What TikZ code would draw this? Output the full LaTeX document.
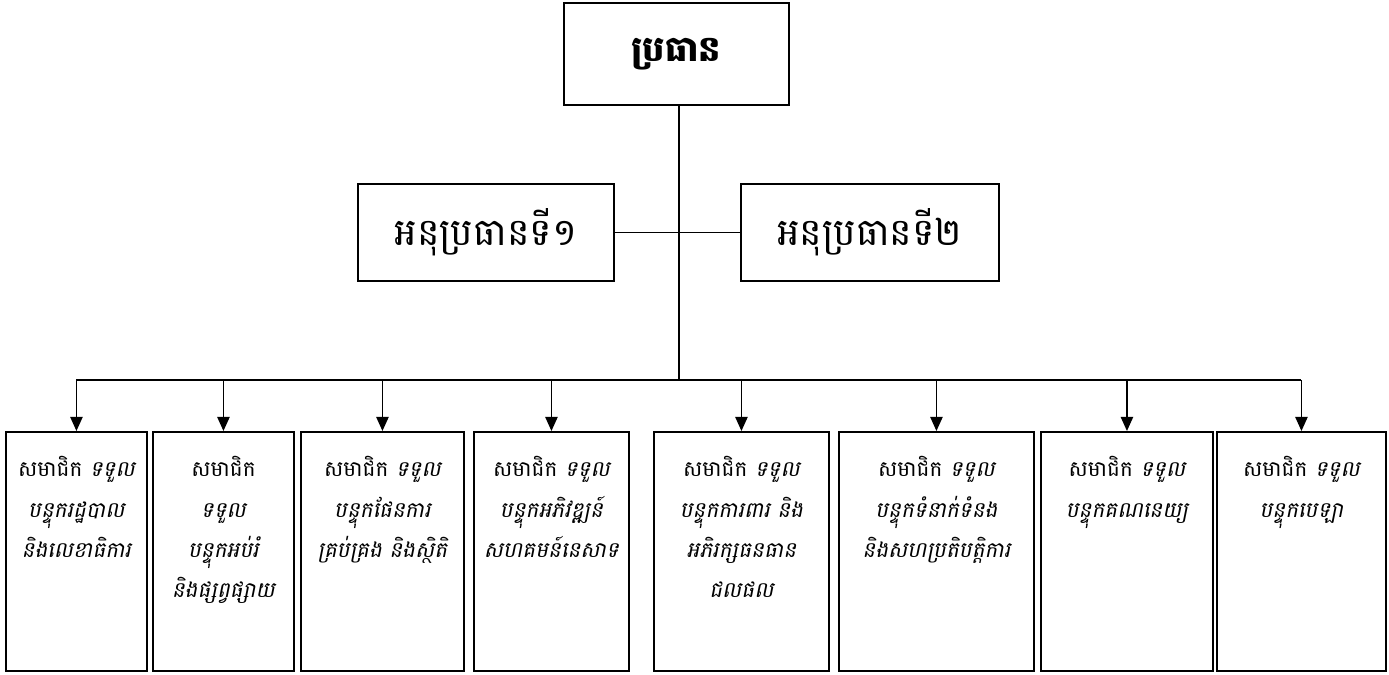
\documentclass[tikz,border=0pt]{standalone}
\usepackage{fontspec}
\newfontfamily\khmer[Script=Khmer]{Battambang}
\newfontfamily\khmerit[Script=Khmer,FakeSlant=0.2]{Battambang}
\newcommand{\kslant}[1]{{\khmerit #1}}
\usetikzlibrary{arrows.meta, positioning}

\begin{document}
\begin{tikzpicture}[x=0.02cm, y=-0.02cm,
        box/.style={draw, line width=1.1pt, minimum width=#1*1cm, anchor=north west, inner sep=0pt},
        head/.style={box=#1, minimum height=1.95cm, font=\khmer\fontsize{21.5}{26}\selectfont},
        member/.style={box=#1, minimum height=4.78cm},
        duty/.style={align=center, inner sep=0pt, font=\khmer\fontsize{12.3}{23}\selectfont},
        link/.style={line width=0.8pt},
        down/.style={link, -{Triangle[width=7pt, length=8pt]}}]
        \useasboundingbox (0,0) rectangle (1389,675);
        % top of the chart
        \node[head=4.5, minimum height=2.04cm, font=\khmer\bfseries\fontsize{20}{24}\selectfont] (chief) at (563,2) {ប្រធាន};
        \node[head=5.12] (vp1) at (357,183) {អនុប្រធានទី១};
        \node[head=5.16] (vp2) at (740,183) {អនុប្រធានទី២};
        \coordinate (bus) at (679,380);
        % members
        \node[member=2.82] (m1) at (5,431) {};
        \node[member=2.82] (m2) at (152,431) {};
        \node[member=3.26] (m3) at (300,431) {};
        \node[member=3.10] (m4) at (473,431) {};
        \node[member=3.50] (m5) at (653,431) {};
        \node[member=3.90] (m6) at (838,431) {};
        \node[member=3.44] (m7) at (1040,431) {};
        \node[member=3.38] (m8) at (1216,431) {};
        \node[duty, below=5mm of m1.north] (t1) {សមាជិក \kslant{ទទួល}\\\kslant{បន្ទុករដ្ឋបាល}\\\kslant{និងលេខាធិការ}};
        \node[duty, below=5mm of m2.north] (t2) {សមាជិក\\\kslant{ទទួល}\\\kslant{បន្ទុកអប់រំ}\\\kslant{និងផ្សព្វផ្សាយ}};
        \node[duty, below=5mm of m3.north] (t3) {សមាជិក \kslant{ទទួល}\\\kslant{បន្ទុកផែនការ}\\\kslant{គ្រប់គ្រង និងស្ថិតិ}};
        \node[duty, below=5mm of m4.north] (t4) {សមាជិក \kslant{ទទួល}\\\kslant{បន្ទុកអភិវឌ្ឍន៍}\\\kslant{សហគមន៍នេសាទ}};
        \node[duty, below=5mm of m5.north] (t5) {សមាជិក \kslant{ទទួល}\\\kslant{បន្ទុកការពារ និង}\\\kslant{អភិរក្សធនធាន}\\\kslant{ជលផល}};
        \node[duty, below=5mm of m6.north] (t6) {សមាជិក \kslant{ទទួល}\\\kslant{បន្ទុកទំនាក់ទំនង}\\\kslant{និងសហប្រតិបត្តិការ}};
        \node[duty, below=5mm of m7.north] (t7) {សមាជិក \kslant{ទទួល}\\\kslant{បន្ទុកគណនេយ្យ}};
        \node[duty, below=5mm of m8.north] (t8) {សមាជិក \kslant{ទទួល}\\\kslant{បន្ទុកបេឡា}};
        % connectors
        \draw[link] (chief.south -| bus) -- (bus);
        \draw[link] (vp1.east) -- (vp2.west);
        \draw[link] (m1.north |- bus) -- (m8.north |- bus);
        \foreach \m in {m1,m2,m3,m4,m5,m6,m7,m8}{
            \draw[down] (\m.north |- bus) -- (\m.north);
        }
        \end{tikzpicture}
\end{document}
